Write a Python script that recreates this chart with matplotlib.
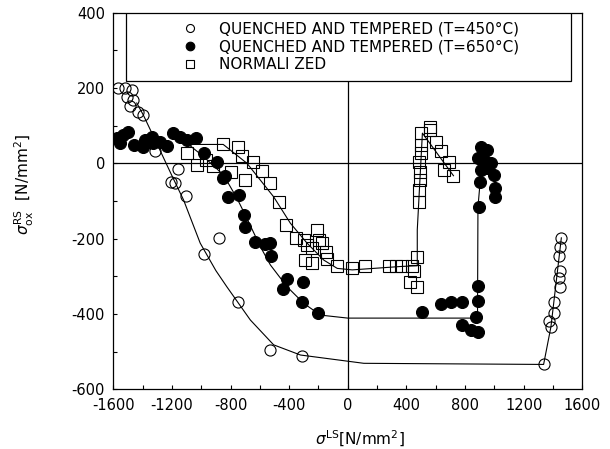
import matplotlib
matplotlib.use("Agg")
import matplotlib.pyplot as plt
from matplotlib.patches import Rectangle
from matplotlib.ticker import MultipleLocator

plt.rcParams['font.family'] = ['DejaVu Sans']
plt.rcParams['mathtext.fontset'] = 'dejavusans'
plt.rcParams['axes.unicode_minus'] = False

# ---- data: quenched and tempered T=450C (open circles)
x450 = [-1566, -1520, -1474, -1508, -1463, -1486, -1429, -1399, -1315, -1160, -1205, -1178, -1103,
        -877, -978, -752, -528, -312, 1336, 1386, 1374, 1404, 1409, 1447, 1438, 1450, 1438, 1447, 1457]
y450 = [200, 200, 195, 177, 168, 152, 135, 128, 33, -16, -49, -53, -87,
        -199, -242, -369, -495, -512, -534, -434, -420, -398, -367, -329, -304, -286, -245, -221, -198]

# ---- quenched and tempered T=650C (filled circles)
x650 = [-1577, -1532, -1497, -1554, -1458, -1395, -1383, -1338, -1327, -1281, -1235, -1190, -1144, -1098,
        -1035, -980, -893, -836, -852, -814, -745, -711, -700, -631, -563, -528, -522, -414, -305, -444,
        -312, -205, 509, 634, 702, 782, 885, 885, 873, 782, 839, 885, 896, 903, 998, 1003, 1005, 907, 948,
        885, 930, 976, 907, 953]
y650 = [66, 75, 82, 53, 49, 42, 62, 71, 53, 57, 46, 80, 71, 62,
        66, 28, 4, -34, -38, -89, -84, -137, -170, -208, -215, -212, -245, -307, -314, -335,
        -369, -398, -395, -374, -367, -367, -326, -366, -409, -429, -443, -447, -117, -49, -31, -66, -89, 44, 35,
        13, 9, 0, -18, -13]

# ---- normalized (open squares)
xN = [-1098, -1026, -966, -923, -852, -795, -752, -722, -650, -700, -585, -528, -472, -419, -351, -301,
      -209, -278, -198, -175, -243, -152, -289, -243, -141, -72, 30, 114, 281, 326, 372, 440, 470, 452,
      425, 470, 486, 486, 490, 490, 486, 497, 497, 497, 561, 561, 600, 634, 691, 656, 721]
yN = [28, -5, 9, -6, 51, -22, 44, 19, 3, -44, -20, -53, -104, -164, -199, -204,
      -177, -217, -204, -212, -226, -235, -257, -266, -253, -274, -279, -274, -274, -272, -272, -272, -248, -286,
      -316, -328, -102, -71, -44, -22, 4, 27, 49, 80, 88, 95, 57, 33, 4, -18, -35]

# ---- fitted curves
fit450_x = [-1440, -1395, -1300, -1200, -1121, -1007, -900, -825, -665, -506, -323, 109, 1336, 1386, 1457]
fit450_y = [160, 128, 50, -33, -97, -212, -285, -328, -416, -482, -509, -531, -534, -434, -198]
fit650_x = [-1080, -985, -848, -756, -700, -597, -528, -414, -300, -187, 0, 885, 888, 903, 910]
fit650_y = [48, 18, -31, -93, -137, -221, -270, -328, -372, -403, -411, -411, -117, -49, 0]
fitN_x = [-1100, -850, -688, -506, -392, -278, -164, -72, 30, 360, 474, 474, 509, 721]
fitN_y = [50, 50, 0, -89, -159, -212, -257, -279, -283, -274, -272, -177, 80, -33]

labels = ['QUENCHED AND TEMPERED (T=450\u00b0C)',
          'QUENCHED AND TEMPERED (T=650\u00b0C)',
          'NORMALI ZED']

fig = plt.figure(figsize=(6.1, 4.49), dpi=100)
ax = fig.add_axes([113.3 / 610, 1 - 389.3 / 449, 469 / 610, 376.7 / 449])

ax.set_xlim(-1600, 1600)
ax.set_ylim(-600, 400)

ax.axhline(0, color='black', lw=0.9, zorder=1)
ax.axvline(0, color='black', lw=0.9, zorder=1)

lw = 0.8
ax.plot(fit450_x, fit450_y, color='black', lw=lw, zorder=2)
ax.plot(fit650_x, fit650_y, color='black', lw=lw, zorder=2)
ax.plot(fitN_x, fitN_y, color='black', lw=lw, zorder=2)

ms = 8
h1, = ax.plot(x450, y450, 'o', ms=ms, mfc='none', mec='black', mew=0.8, zorder=3, label=labels[0])
h2, = ax.plot(x650, y650, 'o', ms=8.6, mfc='black', mec='black', mew=0.8, zorder=3, label=labels[1])
h3, = ax.plot(xN, yN, 's', ms=ms, mfc='none', mec='black', mew=0.8, zorder=3, label=labels[2])

# legend box
ax.add_patch(Rectangle((0.0271, 0.8184), 0.9488, 0.1816, transform=ax.transAxes,
                       facecolor='white', edgecolor='black', lw=0.9, zorder=5))
leg = ax.legend(handles=[h1, h2, h3], loc='upper left', bbox_to_anchor=(0.1473, 0.977),
                frameon=False, fontsize=11, handlelength=1.0, handletextpad=1.39,
                borderpad=0, borderaxespad=0, labelspacing=0.2, markerscale=0.72)
leg.set_zorder(6)

ax.xaxis.set_major_locator(MultipleLocator(400))
ax.xaxis.set_minor_locator(MultipleLocator(200))
ax.yaxis.set_major_locator(MultipleLocator(200))
ax.yaxis.set_minor_locator(MultipleLocator(100))
ax.tick_params(which='both', direction='in', length=3, width=0.8, labelsize=10.5)
ax.tick_params(axis='x', pad=6)
ax.tick_params(axis='y', pad=6)
for s in ax.spines.values():
    s.set_linewidth(0.9)

ax.set_xlabel(r'$\sigma^{\mathrm{LS}}$[N/mm$^2$]', fontsize=11)
ax.xaxis.set_label_coords(0.525, -0.105)
ax.set_ylabel(r'$\sigma^{\mathrm{RS}}_{\mathrm{ox}}$  [N/mm$^2$]', fontsize=11)
ax.yaxis.set_label_coords(-0.165, 0.545)

fig.savefig('out.png', dpi=100)
